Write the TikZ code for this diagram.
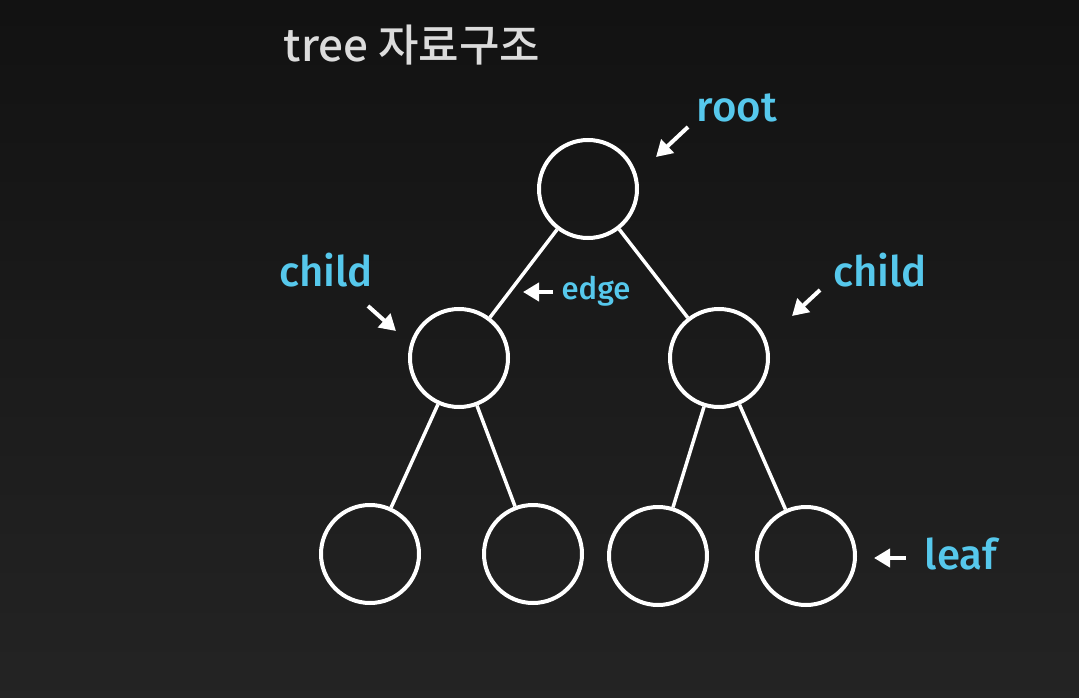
\documentclass[tikz,border=0pt]{standalone}
\usepackage{fontspec}
\setmainfont{Fira Sans}
\newfontfamily\lblfont{Fira Sans}[UprightFont=* Medium]
\newfontfamily\kr{Noto Sans CJK KR}[UprightFont=* Medium]
\usetikzlibrary{arrows.meta}
\definecolor{lblue}{HTML}{56C8EC}
\definecolor{ttl}{HTML}{DCDCDC}
\tikzset{
  treenode/.style={circle, draw=white, line width=4pt, minimum size=98pt, inner sep=0pt},
  treeedge/.style={draw=white, line width=3.5pt},
  ptr/.style={draw=white, line width=4pt, -{Triangle[length=16pt,width=18pt]}},
  lbl/.style={text=lblue, font=\fontsize{42}{48}\selectfont\lblfont, inner sep=0pt},
}
\begin{document}
\begin{tikzpicture}[x=1pt,y=-1pt]
\shade[top color=black!93, bottom color=black!86] (0,0) rectangle (1079,698);
\useasboundingbox (0,0) rectangle (1079,698);
\node[text=ttl, font=\fontsize{44}{50}\selectfont\kr, inner sep=0pt] (title) at (412,45) {tree 자료구조};

\node[treenode] (r) at (588,189) {};
\node[treenode] (l) at (459,358) {};
\node[treenode] (rr) at (719,358) {};
\node[treenode] (ll) at (370,554) {};
\node[treenode] (lr) at (533,554) {};
\node[treenode] (rl) at (658,556) {};
\node[treenode] (rrr) at (806,556) {};

\draw[treeedge] (r) -- (l);
\draw[treeedge] (r) -- (rr);
\draw[treeedge] (l) -- (ll);
\draw[treeedge] (l) -- (lr);
\draw[treeedge] (rr) -- (rl);
\draw[treeedge] (rr) -- (rrr);

\node[lbl] (troot) at (737,108) {root};
\node[lbl] (tchl) at (326,270) {child};
\node[lbl] (tchr) at (880,270) {child};
\node[lbl, font=\fontsize{31}{36}\selectfont\lblfont] (tedge) at (596,291) {edge};
\node[lbl] (tleaf) at (961,554) {leaf};

\coordinate (a1s) at (688,127); \coordinate (a1e) at (656,157);
\coordinate (a2s) at (368,306); \coordinate (a2e) at (396,331);
\coordinate (a3s) at (820,290); \coordinate (a3e) at (792,316);
\coordinate (a4s) at (553,292); \coordinate (a4e) at (523,292);
\coordinate (a5s) at (906,558); \coordinate (a5e) at (874,558);
\draw[ptr] (a1s) -- (a1e);
\draw[ptr] (a2s) -- (a2e);
\draw[ptr] (a3s) -- (a3e);
\draw[ptr] (a4s) -- (a4e);
\draw[ptr] (a5s) -- (a5e);
\end{tikzpicture}
\end{document}
